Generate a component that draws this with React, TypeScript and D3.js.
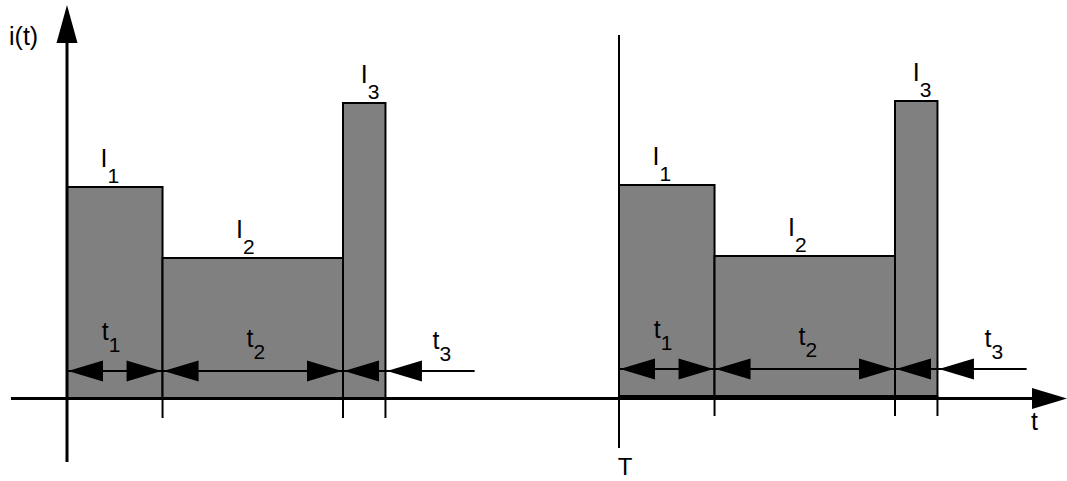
import React from "react";
import * as d3 from "d3";

// time units: t3 = 1; current units: arbitrary
const segments = ["1", "2", "3"];
const durations = [2.25, 4.25, 1.0];
const levels = [2.11, 1.4, 2.95];
const periodStarts = [0, 13];

// label anchors, relative to period start
const levelLabelX = [0.79, 3.98, 6.92];
const durLabelX = [0.82, 4.23, 8.61];
const durLabelY = [0.58, 0.51, 0.49];
const dimLevel = 0.27;
const t3TailEnd = 9.6;

const xAxisExtent = [-1.32, 23.55];
const yAxisExtent = [-0.64, 3.93];
const periodLineExtent = [-0.5, 3.63];
const tickDepth = -0.2;

const W = 1067;
const H = 481;
const FONT = "'Liberation Sans', Arial, sans-serif";
const FILL = "#808080";
// the second period sits a touch higher in the drawing
const PERIOD_LIFT = [0, 2];

const x = d3.scaleLinear().domain([0, 13]).range([67, 619]);
const y = d3.scaleLinear().domain([0, 3]).range([398, 98]);

const HEAD_LEN = 35;
const HEAD_HALF = 10.5;

function head(tipX: number, tipY: number, dir: "l" | "r" | "u") {
  let pts: [number, number][];
  if (dir === "l") pts = [[tipX, tipY], [tipX + HEAD_LEN, tipY - HEAD_HALF], [tipX + HEAD_LEN, tipY + HEAD_HALF]];
  else if (dir === "r") pts = [[tipX, tipY], [tipX - HEAD_LEN, tipY - HEAD_HALF], [tipX - HEAD_LEN, tipY + HEAD_HALF]];
  else pts = [[tipX, tipY], [tipX - HEAD_HALF, tipY + 38], [tipX + HEAD_HALF, tipY + 38]];
  return <path d={(d3.line()(pts) as string) + "Z"} fill="#000" />;
}

function Sub({ px, py, main, sub, dy, size = 25, subSize = 21 }: any) {
  return (
    <text x={px} y={py} fontFamily={FONT} fontSize={size} fill="#000">
      {main}
      <tspan dy={dy} fontSize={subSize}>{sub}</tspan>
    </text>
  );
}

function Period({ start, lift }: { start: number; lift: number }) {
  const bounds = [0, ...d3.cumsum(durations)].map((d) => start + d);
  const yd = y(dimLevel);
  return (
    <g transform={`translate(0,${-lift})`}>
      {segments.map((s, i) => (
        <rect
          key={"r" + s}
          x={x(bounds[i])}
          y={y(levels[i])}
          width={x(bounds[i + 1]) - x(bounds[i])}
          height={y(0) - y(levels[i])}
          fill={FILL}
          stroke="#000"
          strokeWidth={2}
        />
      ))}
      {/* ticks below the axis */}
      {bounds.slice(1).map((b, i) => (
        <line key={"k" + i} x1={x(b)} x2={x(b)} y1={y(0)} y2={y(tickDepth)} stroke="#000" strokeWidth={2} />
      ))}
      {/* dimension arrows t1, t2 */}
      {[0, 1].map((i) => (
        <g key={"d" + i}>
          <line x1={x(bounds[i])} x2={x(bounds[i + 1])} y1={yd} y2={yd} stroke="#000" strokeWidth={2} />
          {head(x(bounds[i]) + 1, yd, "l")}
          {head(x(bounds[i + 1]) - 1, yd, "r")}
        </g>
      ))}
      {/* t3: arrows from outside */}
      <line x1={x(bounds[2])} x2={x(start + t3TailEnd)} y1={yd} y2={yd} stroke="#000" strokeWidth={2} />
      {head(x(bounds[2]) + 1, yd, "l")}
      {head(x(bounds[3]) + 1.5, yd, "l")}
      {/* labels */}
      {segments.map((s, i) => (
        <Sub key={"I" + s} px={x(start + levelLabelX[i])} py={y(levels[i]) - 20} main="I" sub={s} dy={16} />
      ))}
      {segments.map((s, i) => (
        <Sub key={"t" + s} px={x(start + durLabelX[i])} py={y(durLabelY[i])} main="t" sub={s} dy={12} />
      ))}
    </g>
  );
}

export default function App() {
  const x0 = x(0);
  const xT = x(periodStarts[1]);
  return (
    <svg width={W} height={H} style={{ position: "absolute", left: 0, top: 0, background: "#fff" }}>
      <rect width={W} height={H} fill="#fff" />
      {periodStarts.map((p, i) => (
        <Period key={p} start={p} lift={PERIOD_LIFT[i]} />
      ))}
      {/* x axis */}
      <line x1={x(xAxisExtent[0])} x2={x(xAxisExtent[1]) - HEAD_LEN + 2} y1={y(0) + 0.5} y2={y(0) + 0.5} stroke="#000" strokeWidth={3} />
      {head(x(xAxisExtent[1]), y(0) + 0.5, "r")}
      <text x={1031} y={430} fontFamily={FONT} fontSize={25}>t</text>
      {/* y axis */}
      <line x1={x0} x2={x0} y1={y(yAxisExtent[0])} y2={y(yAxisExtent[1]) + 36} stroke="#000" strokeWidth={3} />
      {head(x0, y(yAxisExtent[1]), "u")}
      <text x={9} y={45} fontFamily={FONT} fontSize={25}>i(t)</text>
      {/* period marker T */}
      <line x1={xT} x2={xT} y1={y(periodLineExtent[0])} y2={y(periodLineExtent[1])} stroke="#000" strokeWidth={2} />
      <text x={xT + 6} y={475} textAnchor="middle" fontFamily={FONT} fontSize={24}>T</text>
    </svg>
  );
}
